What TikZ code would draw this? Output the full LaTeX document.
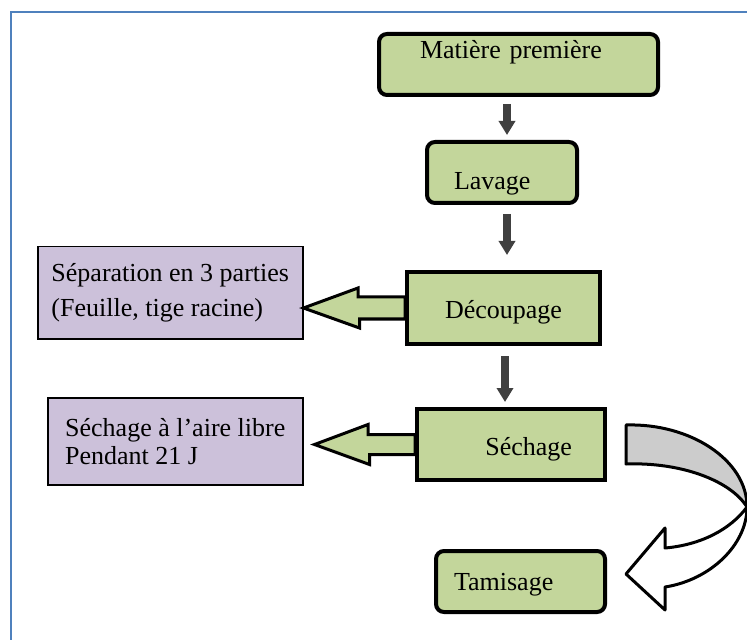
\documentclass[tikz,border=0pt]{standalone}
\usepackage{fontspec}
\setmainfont{Liberation Serif}
\usetikzlibrary{arrows.meta,calc}
\definecolor{stagegreen}{HTML}{C3D69B}
\definecolor{notepurple}{HTML}{CCC1DA}
\definecolor{bandgray}{HTML}{CCCCCC}
\definecolor{framecol}{HTML}{4F81BD}

\begin{document}
\begin{tikzpicture}[x=0.5pt,y=-0.5pt,
    font=\fontsize{13}{17.5}\selectfont,
    stage/.style={draw, line width=2pt, fill=stagegreen, anchor=north west, inner ysep=1pt},
    note/.style={draw, line width=.75pt, fill=notepurple, anchor=north west, align=left},
    down/.style={draw=black!75, line width=4pt, -{Triangle[width=8pt,length=7pt]}},
    hollow/.style={draw, line width=1.5pt, fill=stagegreen, line join=miter}]
    \useasboundingbox (0,0) rectangle (747,640);
    \draw[framecol, line width=1.25pt] (11,640) -- (11,12) -- (747,12);

    \node[stage, rounded corners=4pt, inner xsep=20.5pt, text width=98.5pt, align=left, text height=11.5pt, text depth=17pt] (mp) at (377,32) {Matière première};
    \node[stage, rounded corners=4pt, inner xsep=13.5pt, text width=48pt, align=left, text height=23pt, text depth=5.5pt] (lav) at (425,140) {Lavage};
    \node[stage, inner xsep=1pt, minimum width=96.5pt, text height=22.5pt, text depth=11.5pt] (dec) at (405,270) {Découpage};
    \node[stage, inner xsep=16.5pt, text width=61pt, align=right, text height=22pt, text depth=11.5pt] (sech) at (415,407) {Séchage};
    \node[stage, rounded corners=4pt, inner xsep=9pt, text width=66.5pt, align=left, text height=18.5pt, text depth=10pt] (tam) at (434,549) {Tamisage};
    \node[note, minimum width=132.5pt, minimum height=46pt] (sep) at (37,246) {Séparation en 3 parties\\(Feuille, tige racine)};
    \node[note, minimum width=127.5pt, minimum height=43.5pt, font=\fontsize{13}{14}\selectfont] (sal) at (47,397) {Séchage à l’aire libre\\Pendant 21 J};

    % main line
    \draw[down, shorten <=3.5pt, shorten >=2.5pt] ([xshift=2.5pt]lav.north |- mp.south) -- ([xshift=2.5pt]lav.north);
    \draw[down, shorten <=4.5pt, shorten >=7.5pt] ([xshift=2.5pt]lav.south) -- ([xshift=2.5pt]lav.south |- dec.north);
    \draw[down, shorten <=5pt, shorten >=2.5pt] ([xshift=.75pt]dec.south) -- ([xshift=.75pt]dec.south |- sech.north);

    % side arrows
    \draw[hollow] ($(dec.west)+(0,-11)$) -- ++(-47,0) -- ++(0,-9) -- (sep.east |- dec.west) -- ++(56,20) -- ++(0,-9) -- ($(dec.west)+(0,11)$) -- cycle;
    \draw[hollow] ($(sech.west)+(0,-10)$) -- ++(-47,0) -- ++(0,-10) -- ($(sal.east |- sech.west)+(11,0)$) -- ++(55,20) -- ++(0,-10) -- ($(sech.west)+(0,10)$) -- cycle;

    % curved arrow to Tamisage
    \coordinate (bt) at ($(sech.east)+(19,-19.5)$);
    \coordinate (bb) at ($(sech.east)+(19,19.5)$);
    \coordinate (tip) at ($(tam.east)+(19,-7.5)$);
    \filldraw[line width=1.5pt, line join=round, fill=bandgray] (bt) .. controls (690,423) and (747,460) .. (747,507) .. controls (730,480) and (680,462) .. (bb) -- cycle;
    \filldraw[line width=1.5pt, line join=round, fill=white] (747,507) .. controls (747,545) and (710,580) .. (665,587) -- (665,610) -- (tip) -- (665,528) -- (665,548) .. controls (700,545) and (730,530) .. (747,507) -- cycle;
\end{tikzpicture}
\end{document}
